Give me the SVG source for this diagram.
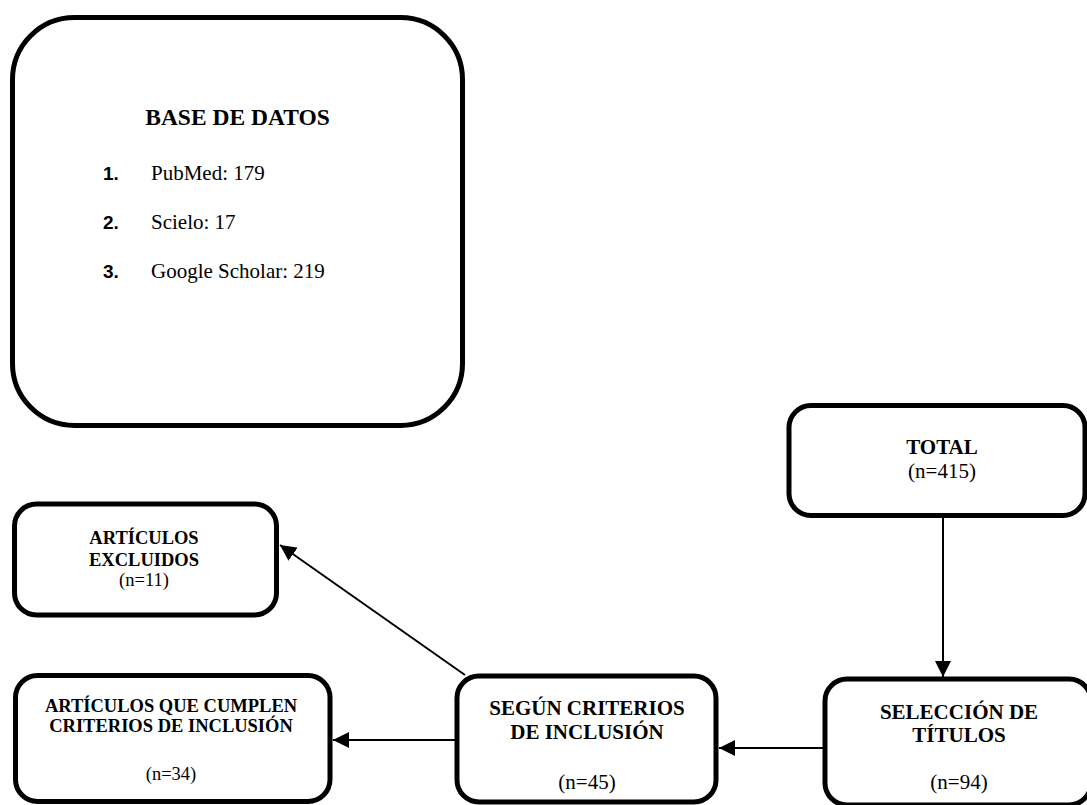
<svg xmlns="http://www.w3.org/2000/svg" width="1087" height="805" viewBox="0 0 1087 805">
<style>
.box{fill:#fff;stroke:#000;stroke-width:5}
.conn{stroke:#000;stroke-width:2;fill:none}
.t{font-family:"Liberation Serif","Times New Roman",serif;fill:#000;text-anchor:middle}
.b{font-weight:bold}
.n{font-family:"Liberation Sans",Arial,sans-serif;font-weight:bold;font-size:19px;fill:#000}
.li{font-family:"Liberation Serif","Times New Roman",serif;font-size:21px;fill:#000}
.f21{font-size:21px}
.f18{font-size:18.5px}
</style>
<defs>
<marker id="arr" markerUnits="userSpaceOnUse" markerWidth="16" markerHeight="16" refX="16" refY="8" orient="auto">
<path d="M0,0 L16,8 L0,16 z" fill="#000"/>
</marker>
</defs>
<g id="base-de-datos">
<rect class="box" x="12.5" y="17.5" width="450" height="408" rx="62"/>
<text class="t b" x="237.5" y="125" font-size="23.5">BASE DE DATOS</text>
<text class="n" x="103" y="180">1.</text>
<text class="li" x="151" y="180">PubMed: 179</text>
<text class="n" x="103" y="229">2.</text>
<text class="li" x="151" y="229">Scielo: 17</text>
<text class="n" x="103" y="278">3.</text>
<text class="li" x="151" y="278">Google Scholar: 219</text>
</g>
<g id="total">
<rect class="box" x="789" y="405.5" width="296" height="110" rx="22"/>
<text class="t b f21" x="942" y="454">TOTAL</text>
<text class="t f21" x="942" y="478">(n=415)</text>
</g>
<g id="seleccion">
<rect class="box" x="825" y="679" width="266" height="126" rx="22"/>
<text class="t b f21" x="959" y="719">SELECCIÓN DE</text>
<text class="t b f21" x="959" y="742">TÍTULOS</text>
<text class="t f21" x="959" y="789">(n=94)</text>
</g>
<g id="segun">
<rect class="box" x="457" y="676" width="259" height="126" rx="22"/>
<text class="t b f21" x="587" y="715">SEGÚN CRITERIOS</text>
<text class="t b f21" x="587" y="739">DE INCLUSIÓN</text>
<text class="t f21" x="587" y="789">(n=45)</text>
</g>
<g id="cumplen">
<rect class="box" x="15.5" y="675.5" width="314.5" height="126" rx="22"/>
<text class="t b f18" x="171" y="712">ARTÍCULOS QUE CUMPLEN</text>
<text class="t b f18" x="171" y="732">CRITERIOS DE INCLUSIÓN</text>
<text class="t f18" x="171" y="780">(n=34)</text>
</g>
<g id="excluidos">
<rect class="box" x="14.5" y="504" width="262" height="111" rx="22"/>
<text class="t b f18" x="144" y="544">ARTÍCULOS</text>
<text class="t b f18" x="144" y="566">EXCLUIDOS</text>
<text class="t f18" x="144" y="586">(n=11)</text>
</g>
<g id="connectors">
<line class="conn" x1="943" y1="518" x2="943" y2="677" marker-end="url(#arr)"/>
<line class="conn" x1="823" y1="748" x2="719" y2="748" marker-end="url(#arr)"/>
<line class="conn" x1="455" y1="740" x2="333" y2="740" marker-end="url(#arr)"/>
<line class="conn" x1="465" y1="675" x2="280" y2="545" marker-end="url(#arr)"/>
</g>
</svg>
